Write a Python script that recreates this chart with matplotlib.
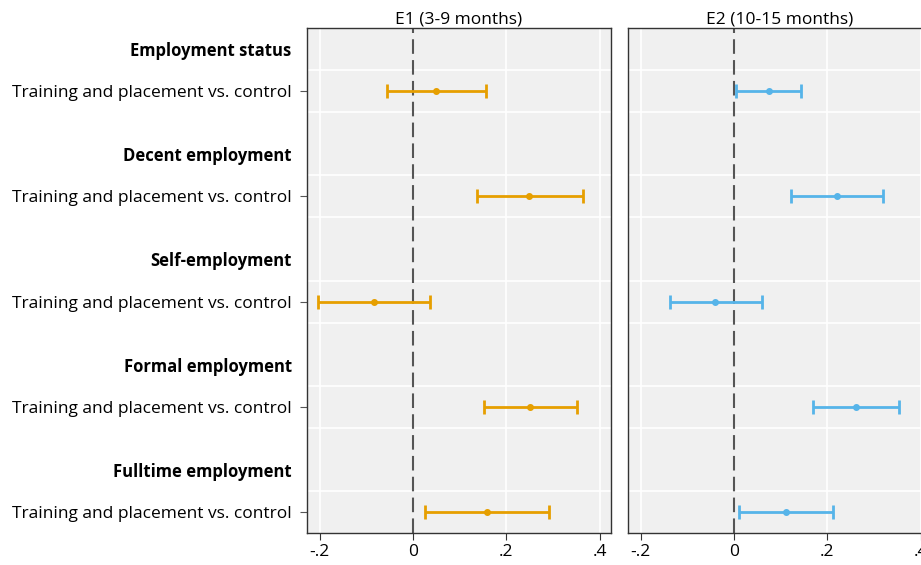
import matplotlib.pyplot as plt
import numpy as np

plt.rcParams['font.family'] = ['Open Sans', 'DejaVu Sans']

headers = ['Employment status', 'Decent employment', 'Self-employment',
           'Formal employment', 'Fulltime employment']
row_label = 'Training and placement vs. control'

# E1 (3-9 months)
e1_coef = [0.050, 0.249, -0.083, 0.251, 0.159]
e1_lo = [-0.056, 0.136, -0.203, 0.151, 0.026]
e1_hi = [0.156, 0.365, 0.037, 0.351, 0.292]

# E2 (10-15 months)
e2_coef = [0.075, 0.220, -0.040, 0.262, 0.111]
e2_lo = [0.005, 0.121, -0.138, 0.169, 0.011]
e2_hi = [0.144, 0.319, 0.059, 0.354, 0.212]

titles = ['E1 (3-9 months)', 'E2 (10-15 months)']
colors = ['#E69F00', '#56B4E9']
xticks = [-0.2, 0, 0.2, 0.4]
xticklabels = ['-.2', '0', '.2', '.4']

# y layout: header then row, groups 2.5 apart
head_pos = np.arange(5) * 2.5 + 1
row_pos = head_pos + 1
grid_pos = [p + 0.5 for p in head_pos] + [p + 0.5 for p in row_pos[:-1]]

fig = plt.figure(figsize=(9.21, 5.65), dpi=100)
ax1 = fig.add_axes([307 / 921, 1 - 533 / 565, 304 / 921, 505 / 565])
ax2 = fig.add_axes([628 / 921, 1 - 533 / 565, 304 / 921, 505 / 565])

data = [(e1_coef, e1_lo, e1_hi), (e2_coef, e2_lo, e2_hi)]

for i, ax in enumerate([ax1, ax2]):
    coef, lo, hi = [np.array(d) for d in data[i]]
    ax.set_facecolor('#F0F0F0')
    ax.set_xlim(-0.227, 0.424)
    ax.set_ylim(12.5, 0.5)
    for g in grid_pos:
        ax.axhline(g, color='white', lw=1.2, zorder=1)
    for xv in [-0.2, 0.2, 0.4]:
        ax.axvline(xv, color='white', lw=1.2, zorder=1)
    ax.axvline(0, color='#555555', lw=1.5, dashes=(7, 3), zorder=2)
    ax.errorbar(coef, row_pos, xerr=[coef - lo, hi - coef], fmt='o',
                color=colors[i], ms=4, elinewidth=2, capsize=5, capthick=2,
                zorder=3)
    ax.set_title(titles[i], fontsize=12.5, pad=2)
    ax.set_xticks(xticks)
    ax.set_xticklabels(xticklabels, fontsize=12.5)
    ax.tick_params(axis='x', length=5, color='#333333', pad=3)
    for s in ax.spines.values():
        s.set_color('#333333')
        s.set_linewidth(1)

ax1.set_yticks(list(head_pos) + list(row_pos))
ax1.set_yticklabels(headers + [row_label] * 5, fontsize=12.5)
ax1.tick_params(axis='y', length=5, color='#555555', pad=6)
for k, tk in enumerate(ax1.yaxis.get_major_ticks()):
    if k < 5:
        tk.tick1line.set_visible(False)
        tk.label1.set_fontweight('bold')
        tk.label1.set_fontsize(12)
ax2.set_yticks([])

fig.savefig('out.png', dpi=100)
